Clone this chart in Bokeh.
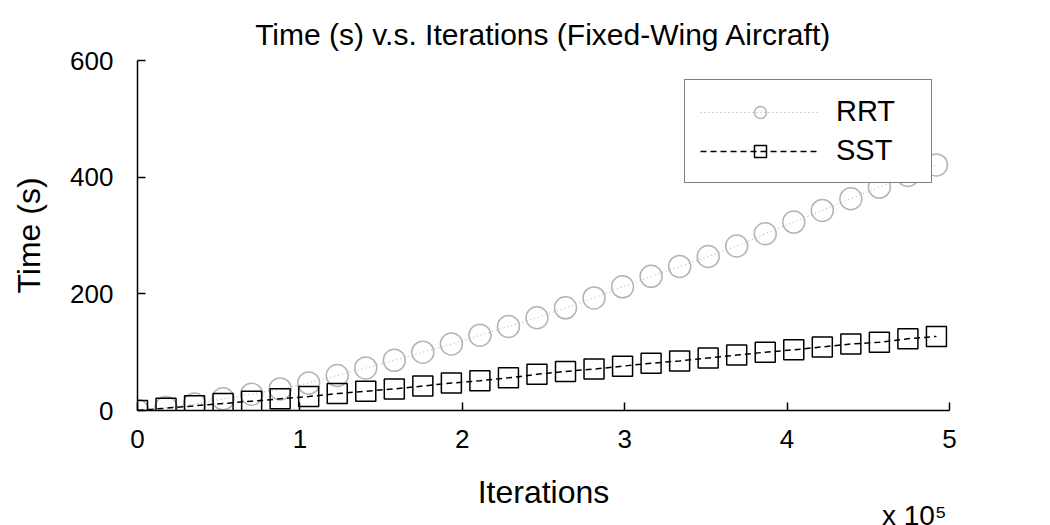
from bokeh.plotting import figure
from bokeh.models import FixedTicker, Legend, LegendItem, Title
from bokeh.embed import file_html
from bokeh.resources import INLINE

# Data
iterations = [i * 17570 for i in range(29)]
rrt_time = [0, 5, 11, 20, 28, 37, 47, 60, 73, 86, 100, 114, 129, 144, 159, 176,
            193, 212, 230, 247, 264, 282, 303, 323, 343, 363, 383, 403, 421]
sst_time = [0, 4, 8, 12, 16, 20, 24, 29, 33, 37, 42, 47, 51, 56, 62, 67, 71, 76,
            81, 85, 90, 95, 100, 104, 109, 114, 117, 123, 127]
x_ticks = [0, 100000, 200000, 300000, 400000, 500000]
x_tick_labels = ["0", "1", "2", "3", "4", "5"]
y_ticks = [0, 200, 400, 600]

FONT = "Liberation Sans"

p = figure(width=1050, height=525, output_backend="svg", toolbar_location=None,
           x_range=(0, 500000), y_range=(0, 600),
           min_border_left=137, min_border_right=101, min_border_top=60,
           min_border_bottom=115)
p.title.text = "Time (s) v.s. Iterations (Fixed-Wing Aircraft)"
p.title.align = "center"
p.title.text_font = FONT
p.title.text_font_size = "30px"
p.title.text_font_style = "normal"
p.title.text_color = "black"
p.title.standoff = 20

p.outline_line_color = None
p.grid.grid_line_color = None
p.background_fill_color = "white"
p.border_fill_color = "white"

for ax in (p.xaxis[0], p.yaxis[0]):
    ax.axis_line_width = 1.5
    ax.axis_line_color = "black"
    ax.major_tick_in = 8
    ax.major_tick_out = 0
    ax.major_tick_line_width = 1.5
    ax.minor_tick_line_color = None
    ax.major_label_text_font = FONT
    ax.major_label_text_font_size = "26px"
    ax.major_label_text_color = "black"
    ax.axis_label_text_font = FONT
    ax.axis_label_text_font_size = "32px"
    ax.axis_label_text_font_style = "normal"
    ax.axis_label_text_color = "black"

p.xaxis.ticker = FixedTicker(ticks=x_ticks)
p.xaxis.major_label_overrides = {t: l for t, l in zip(x_ticks, x_tick_labels)}
p.xaxis.major_label_standoff = 19
p.xaxis.axis_label = "Iterations"
p.xaxis.axis_label_standoff = 23
p.yaxis.ticker = FixedTicker(ticks=y_ticks)
p.yaxis.major_label_standoff = 24
p.yaxis.axis_label = "Time (s)"
p.yaxis.axis_label_standoff = 20

r1 = p.line(iterations, rrt_time, line_color="#aaaaaa", line_dash="1 3", line_width=1)
r2 = p.scatter(iterations, rrt_time, marker="circle", size=22, line_color="#b4b4b4",
               fill_color=None, line_width=1.5)
r3 = p.line(iterations, sst_time, line_color="black", line_dash="6 4", line_width=1.5)
r4 = p.scatter(iterations, sst_time, marker="square", size=20, line_color="black",
               fill_color=None, line_width=1.5)

legend = Legend(items=[LegendItem(label="RRT", renderers=[r1, r2]),
                       LegendItem(label="SST", renderers=[r3, r4])],
                location=(547, 227))
legend.label_text_font = FONT
legend.label_text_font_size = "29px"
legend.label_text_color = "black"
legend.glyph_width = 120
legend.glyph_height = 30
legend.label_standoff = 16
legend.label_width = 80
legend.padding = 15
legend.spacing = 6
legend.border_line_color = "black"
legend.border_line_width = 1.5
legend.background_fill_alpha = 1
p.add_layout(legend, "center")

scale_note = Title(text="x 10\u2075", align="right", text_font=FONT,
                   text_font_size="28px", text_font_style="normal",
                   text_color="black", standoff=-36, offset=3)
p.add_layout(scale_note, "below")

open("out.html", "w").write(file_html(p, INLINE))
